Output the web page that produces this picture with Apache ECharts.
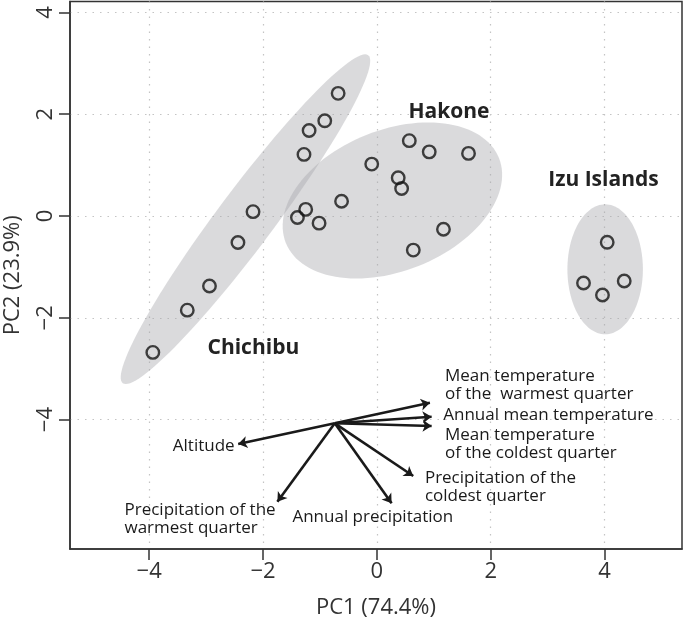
<!DOCTYPE html>
<html>
<head>
<meta charset="utf-8">
<script src="https://cdn.jsdelivr.net/npm/echarts@6/dist/echarts.min.js"></script>
<style>html,body{margin:0;padding:0;background:#fff}#c{width:685px;height:627px}</style>
</head>
<body>
<div id="c"></div>
<script>
// ---- data ----
const xTicks = [-4, -2, 0, 2, 4];
const yTicks = [-4, -2, 0, 2, 4];

const chichibuX = [-0.68, -0.915, -1.19, -1.28, -2.175, -2.44, -2.94, -3.33, -3.935];
const chichibuY = [2.41, 1.87, 1.68, 1.21, 0.085, -0.52, -1.375, -1.85, -2.68];

const hakoneX = [-0.09, -0.62, -1.25, -1.395, -1.015, 0.57, 0.92, 1.61, 0.375, 0.435, 1.17, 0.64];
const hakoneY = [1.02, 0.29, 0.13, -0.03, -0.14, 1.48, 1.26, 1.23, 0.75, 0.54, -0.26, -0.67];

const izuX = [4.046, 3.63, 3.963, 4.345];
const izuY = [-0.517, -1.316, -1.552, -1.277];

// group ellipses: centre, first semi-axis vector, second semi-axis vector (data units)
const groupNames = ['Chichibu', 'Hakone', 'Izu Islands'];
const ellipseCX = [-2.308, 0.273, 4.01];
const ellipseCY = [-0.063, 0.305, -1.047];
const ellipseUX = [2.155, 1.872, 0.663];
const ellipseUY = [3.222, 0.833, 0];
const ellipseVX = [0.397, 0.459, 0];
const ellipseVY = [-0.332, -1.287, 1.277];

// loading vectors
const arrowOrigin = [-0.739, -4.073];
const arrowNames = [
  'Mean temperature\nof the  warmest quarter',
  'Annual mean temperature',
  'Mean temperature\nof the coldest quarter',
  'Precipitation of the\ncoldest quarter',
  'Annual precipitation',
  'Precipitation of the\nwarmest quarter',
  'Altitude'
];
const arrowEndX = [0.932, 0.962, 0.962, 0.639, 0.259, -1.747, -2.436];
const arrowEndY = [-3.668, -3.943, -4.126, -5.108, -5.644, -5.613, -4.479];

// ---- layout (label anchors in data units) ----
const arrowLabelPos = [
  [1.196, -3.32, 'left'],
  [1.166, -3.91, 'left'],
  [1.196, -4.48, 'left'],
  [0.844, -5.334, 'left'],
  [-1.483, -5.908, 'left'],
  [-4.433, -5.953, 'left'],
  [-2.498, -4.519, 'right']
];
const groupLabelPos = [[-2.169, -2.593], [1.267, 2.049], [3.98, 0.707]];

const FONT = '"Open Sans", "Noto Sans", sans-serif';
const chart = echarts.init(document.getElementById('c'), null, {renderer: 'canvas'});

const pointStyle = {color: 'rgba(0,0,0,0)', borderColor: '#141414', borderWidth: 2.4};
const toPts = (xs, ys) => xs.map((x, i) => [x, ys[i]]);
const minusFmt = v => (v < 0 ? '\u2212' + Math.abs(v) : String(v));

const option = {
  animation: false,
  backgroundColor: '#fff',
  grid: {left: 70, right: 3, top: 1.5, bottom: 78, containLabel: false, outerBoundsMode: 'none',
    show: true, borderColor: '#333', borderWidth: 1.5, backgroundColor: 'transparent'},
  xAxis: {
    type: 'value', min: -5.39, max: 5.36,
    axisLine: {show: true, onZero: false, lineStyle: {color: '#333', width: 1.5}},
    axisTick: {show: true, inside: false, length: 11, customValues: xTicks, lineStyle: {color: '#333', width: 1.5}},
    axisLabel: {customValues: xTicks, formatter: minusFmt, fontSize: 22, fontFamily: FONT, color: '#333', margin: 12},
    splitLine: {show: true, lineStyle: {color: '#c4c4c4', type: [1.5, 6], width: 1.2}},
    name: 'PC1 (74.4%)', nameLocation: 'middle', nameGap: 48,
    nameTextStyle: {fontSize: 22, fontFamily: FONT, color: '#333'}
  },
  yAxis: {
    type: 'value', min: -6.542, max: 4.214,
    axisLine: {show: true, onZero: false, lineStyle: {color: '#333', width: 1.5}},
    axisTick: {show: true, inside: false, length: 11, customValues: yTicks, lineStyle: {color: '#333', width: 1.5}},
    axisLabel: {customValues: yTicks, formatter: minusFmt, rotate: 90, fontSize: 22, fontFamily: FONT, color: '#333', margin: 13},
    splitLine: {show: true, lineStyle: {color: '#c4c4c4', type: [1.5, 6], width: 1.2}},
    name: 'PC2 (23.9%)', nameLocation: 'middle', nameGap: 46, nameRotate: 90,
    nameTextStyle: {fontSize: 22, fontFamily: FONT, color: '#333'}
  },
  series: [
    {
      type: 'custom', name: 'ellipses', z: 1, silent: true,
      data: ellipseCX.map((cx, i) => [cx, ellipseCY[i], i]),
      encode: {x: 0, y: 1},
      renderItem: function (params, api) {
        const i = params.dataIndex;
        const pts = [];
        const n = 120;
        for (let k = 0; k <= n; k++) {
          const t = (k / n) * Math.PI * 2;
          const c = Math.cos(t), s = Math.sin(t);
          pts.push(api.coord([
            ellipseCX[i] + c * ellipseUX[i] + s * ellipseVX[i],
            ellipseCY[i] + c * ellipseUY[i] + s * ellipseVY[i]
          ]));
        }
        return {type: 'polygon', shape: {points: pts}, style: {fill: 'rgba(168,168,172,0.42)'}};
      }
    },
    {
      type: 'lines', coordinateSystem: 'cartesian2d', z: 3, silent: true,
      symbol: ['none', 'arrow'], symbolSize: 9,
      lineStyle: {color: '#1a1a1a', width: 2.6, opacity: 1},
      data: arrowEndX.map((x, i) => ({coords: [arrowOrigin, [x, arrowEndY[i]]]}))
    },
    {type: 'scatter', name: 'Chichibu', z: 4, symbol: 'circle', symbolSize: 12.5, itemStyle: pointStyle, data: toPts(chichibuX, chichibuY)},
    {type: 'scatter', name: 'Hakone', z: 4, symbol: 'circle', symbolSize: 12.5, itemStyle: pointStyle, data: toPts(hakoneX, hakoneY)},
    {type: 'scatter', name: 'Izu Islands', z: 4, symbol: 'circle', symbolSize: 12.5, itemStyle: pointStyle, data: toPts(izuX, izuY)},
    {
      type: 'custom', name: 'arrowLabels', z: 5, silent: true,
      data: arrowLabelPos.map(p => [p[0], p[1]]),
      encode: {x: 0, y: 1},
      renderItem: function (params, api) {
        const i = params.dataIndex;
        const p = api.coord([arrowLabelPos[i][0], arrowLabelPos[i][1]]);
        return {type: 'text', x: p[0], y: p[1], style: {
          text: arrowNames[i], fill: '#1a1a1a', fontSize: 17, fontFamily: FONT, lineHeight: 18,
          align: arrowLabelPos[i][2], verticalAlign: 'middle'
        }};
      }
    },
    {
      type: 'custom', name: 'groupLabels', z: 5, silent: true,
      data: groupLabelPos,
      encode: {x: 0, y: 1},
      renderItem: function (params, api) {
        const i = params.dataIndex;
        const p = api.coord(groupLabelPos[i]);
        return {type: 'text', x: p[0], y: p[1], style: {
          text: groupNames[i], fill: '#222', fontSize: 21, fontWeight: 'bold', fontFamily: FONT,
          align: 'center', verticalAlign: 'middle'
        }};
      }
    }
  ]
};
chart.setOption(option);
</script>
</body>
</html>
